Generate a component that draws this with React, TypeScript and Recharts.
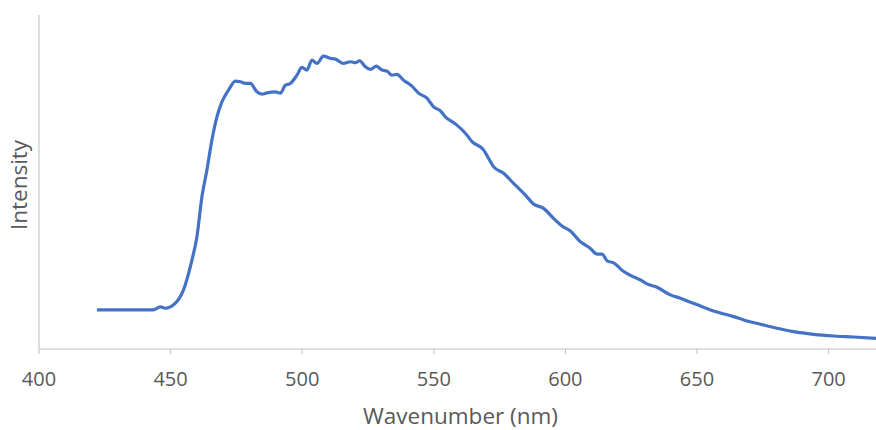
import { LineChart, Line, XAxis, YAxis } from "recharts";

// emission spectrum, arbitrary intensity units (0-1000)
const wavelengths = [
  422, 443.4, 446.1, 448, 451.8, 454.9, 458.1, 460, 461.9, 463.8, 465.7, 467.6,
  469.5, 472, 474.6, 476.5, 478.4, 480.3, 482.8, 484.7, 486.6, 489.8, 491.7,
  493.6, 495.5, 498, 499.9, 501.8, 503.7, 505.6, 508.1, 510.7, 512.6, 515.7,
  518.3, 520.2, 521.8, 524, 525.9, 528.2, 530.3, 532.2, 534.1, 536, 538.5,
  541.7, 544.2, 547.4, 549.9, 552.5, 554.4, 558.2, 562, 564.5, 568.9, 570.8,
  572.7, 576.5, 580.3, 584.8, 587.9, 591.7, 595.5, 598.7, 601.9, 605.7, 609.5,
  612, 613.9, 616, 618.3, 621.5, 625.9, 628.5, 631, 634.8, 639.9, 643.7, 647.5,
  651.3, 655.1, 658.9, 663.9, 669, 674.1, 680.4, 686.7, 694.3, 701.9, 709.5, 718,
];

const intensities = [
  117, 117, 126, 122, 137, 177, 266, 336, 456, 536, 626, 695, 740, 775, 802,
  800, 795, 795, 770, 763, 767, 770, 766, 790, 795, 820, 843, 835, 865, 855,
  877, 870, 868, 855, 860, 857, 863, 845, 837, 847, 835, 832, 820, 822, 805,
  787, 766, 751, 725, 713, 695, 674, 646, 621, 596, 571, 546, 526, 496, 461,
  434, 421, 391, 368, 353, 321, 301, 284, 284, 263, 258, 236, 216, 207, 195,
  185, 162, 152, 140, 129, 117, 108, 97, 84, 74, 62, 52, 44, 39, 36, 32,
];

const xTicks = [400, 450, 500, 550, 600, 650, 700];

const data = wavelengths.map((w, i) => ({ wavelength: w, intensity: intensities[i] }));

const font = "'Open Sans', 'Noto Sans', sans-serif";
const textColor = "#595959";
const axisColor = "#bfbfbf";

const App = () => {
  return (
    <div style={{ position: "absolute", left: 0, top: 0, width: 876, height: 430, background: "#fff" }}>
      <LineChart
        width={876}
        height={430}
        data={data}
        margin={{ top: 15, right: 0, bottom: 0, left: 0 }}
        style={{ fontFamily: font }}
      >
        <XAxis
          dataKey="wavelength"
          type="number"
          domain={[400, 718]}
          ticks={xTicks}
          allowDataOverflow
          height={81}
          stroke={axisColor}
          tickSize={5}
          tickMargin={18}
          tick={{ fill: textColor, fontSize: 20, fontFamily: font }}
          label={{
            value: "Wavenumber (nm)",
            position: "insideBottom",
            offset: 6,
            dx: 3,
            fill: textColor,
            fontSize: 22.5,
            fontFamily: font,
          }}
        />
        <YAxis
          type="number"
          domain={[0, 1000]}
          width={39}
          tick={false}
          tickLine={false}
          stroke={axisColor}
          label={{
            value: "Intensity",
            angle: -90,
            position: "center",
            dy: 3,
            fill: textColor,
            fontSize: 22.5,
            fontFamily: font,
          }}
        />
        <Line
          type="monotone"
          dataKey="intensity"
          stroke="#4472C4"
          strokeWidth={3.2}
          dot={false}
          isAnimationActive={false}
        />
      </LineChart>
    </div>
  );
};

export default App;
